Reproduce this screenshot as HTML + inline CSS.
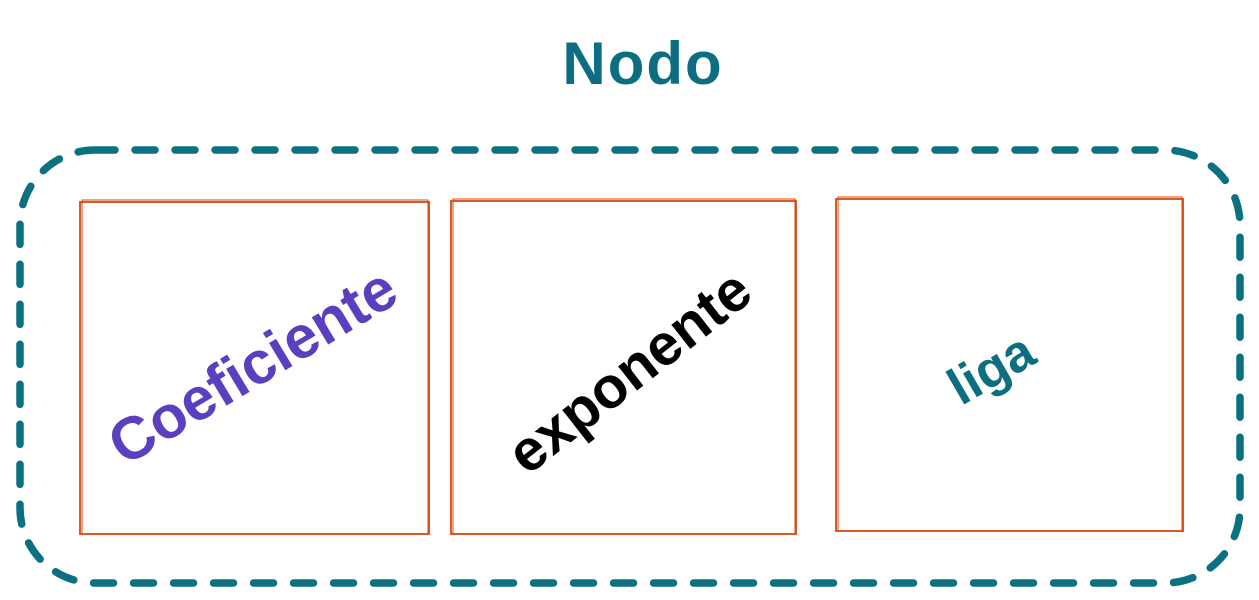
<!DOCTYPE html>
<html><head><meta charset="utf-8"><style>
html,body{margin:0;padding:0;background:#fff;}
svg{display:block;}
text{font-family:"Comic Sans MS","Liberation Sans",sans-serif;font-weight:bold;}
</style></head><body>
<svg width="1259" height="600" viewBox="0 0 1259 600" xmlns="http://www.w3.org/2000/svg">
<text x="643" y="84" text-anchor="middle" font-size="60" fill="#0c6e80" font-weight="normal" letter-spacing="2">Nodo</text>
<rect x="20" y="150" width="1220" height="433" rx="75" ry="75" fill="none" stroke="#0b7080" stroke-width="7.5" stroke-linecap="round" stroke-dasharray="20 20"/>
<g fill="none" stroke="#d9480f" stroke-width="1.8">
<rect x="80" y="202" width="349" height="332"/>
<rect x="82" y="200" width="346" height="334" stroke-width="1"/>
<rect x="451" y="201" width="345" height="333"/>
<rect x="453" y="199" width="342" height="335" stroke-width="1"/>
<rect x="836" y="199" width="347" height="332"/>
<rect x="838" y="197" width="344" height="334" stroke-width="1"/>
</g>
<text transform="translate(255,370) rotate(-31)" text-anchor="middle" dominant-baseline="middle" font-size="60" fill="#5b3fbf">Coeficiente</text>
<text transform="translate(632,375) rotate(-38)" text-anchor="middle" dominant-baseline="middle" font-size="58" fill="#000">exponente</text>
<text transform="translate(993,372) rotate(-30)" text-anchor="middle" dominant-baseline="middle" font-size="52" fill="#0c6e80" font-weight="normal">liga</text>
</svg>
</body></html>
